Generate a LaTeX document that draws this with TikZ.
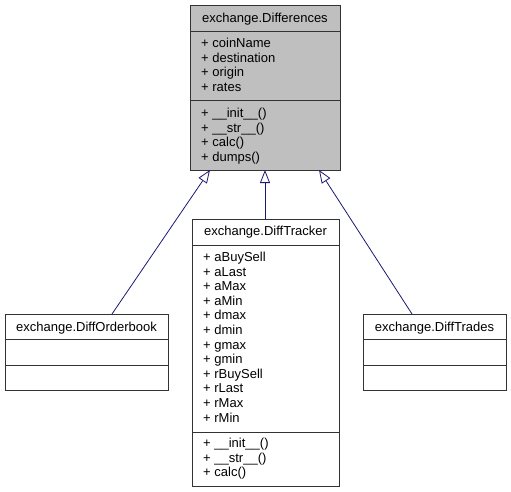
\documentclass[tikz,border=0pt]{standalone}
\usepackage{fontspec}
\setmainfont{Liberation Sans}
\usetikzlibrary{arrows.meta}
\definecolor{edgeblue}{HTML}{191970}
\definecolor{basegray}{HTML}{BFBFBF}
\begin{document}
\begin{tikzpicture}[x=1pt,y=-1pt,
  classbox/.style={draw=black!80, line width=0.9pt, rectangle, inner sep=0pt, outer sep=0pt},
  sepline/.style={draw=black!80, line width=0.9pt},
  member/.style={anchor=base west, inner sep=0pt, font=\fontsize{13}{14.6}\selectfont},
  classname/.style={anchor=base, inner sep=0pt, font=\fontsize{13}{14.6}\selectfont},
  inherit/.style={draw=edgeblue, line width=0.8pt,
    {Triangle[open, length=13pt, width=10pt, fill=white]}-}]
\useasboundingbox (0,0) rectangle (511,492);

% base class
\node[classbox, fill=basegray, minimum width=150pt, minimum height=165pt] (diff) at (265,87.5) {};
\draw[sepline] (diff.west |- 0,31) -- (diff.east |- 0,31);
\draw[sepline] (diff.west |- 0,100) -- (diff.east |- 0,100);
\node[classname] (diffname) at (265,22.5) {exchange.Differences};
\foreach \t [count=\i from 0] in {coinName,destination,origin,rates}
  \node[member] at (201,47.5+14.6*\i) {+ \t};
\foreach \t [count=\i from 0] in {\_\_init\_\_(),\_\_str\_\_(),calc(),dumps()}
  \node[member] at (201,117.5+14.6*\i) {+ \t};

% DiffOrderbook
\node[classbox, minimum width=163pt, minimum height=76pt] (orderbook) at (86.5,352) {};
\draw[sepline] (orderbook.west |- 0,339) -- (orderbook.east |- 0,339);
\draw[sepline] (orderbook.west |- 0,365) -- (orderbook.east |- 0,365);
\node[classname] (orderbookname) at (86.5,331.5) {exchange.DiffOrderbook};

% DiffTracker
\node[classbox, minimum width=147pt, minimum height=267pt] (tracker) at (265.5,352.5) {};
\draw[sepline] (tracker.west |- 0,245) -- (tracker.east |- 0,245);
\draw[sepline] (tracker.west |- 0,432) -- (tracker.east |- 0,432);
\node[classname] (trackername) at (265.5,235.5) {exchange.DiffTracker};
\foreach \t [count=\i from 0] in {aBuySell,aLast,aMax,aMin,dmax,dmin,gmax,gmin,rBuySell,rLast,rMax,rMin}
  \node[member] at (203,261.5+14.6*\i) {+ \t};
\foreach \t [count=\i from 0] in {\_\_init\_\_(),\_\_str\_\_(),calc()}
  \node[member] at (203,447.5+14.6*\i) {+ \t};

% DiffTrades
\node[classbox, minimum width=143pt, minimum height=76pt] (trades) at (434.5,352) {};
\draw[sepline] (trades.west |- 0,339) -- (trades.east |- 0,339);
\draw[sepline] (trades.west |- 0,365) -- (trades.east |- 0,365);
\node[classname] (tradesname) at (434.5,331.5) {exchange.DiffTrades};

% inheritance
\draw[inherit] ([xshift=-55pt]diff.south) -- ([xshift=25.5pt]orderbook.north);
\draw[inherit] (diff.south) -- (diff.south |- tracker.north);
\draw[inherit] ([xshift=54pt]diff.south) -- ([xshift=-22.5pt]trades.north);
\end{tikzpicture}
\end{document}
